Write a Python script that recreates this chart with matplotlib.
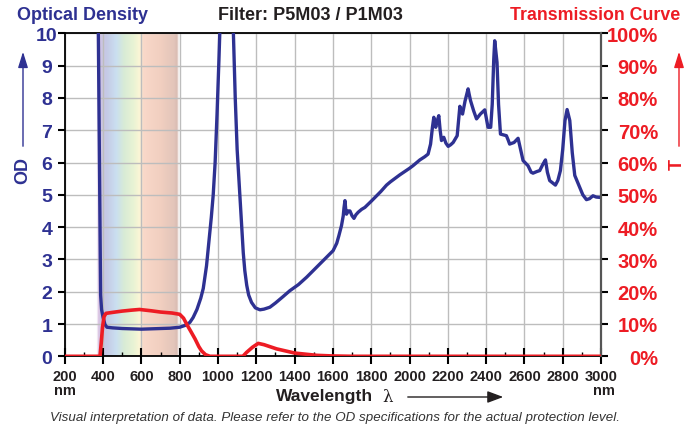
import numpy as np
import matplotlib
matplotlib.use("Agg")
import matplotlib.pyplot as plt
from matplotlib.colors import to_rgb

# ---------------- data ----------------
od_nm = [370, 375, 381, 387, 392, 400, 410, 420, 450, 500, 550, 600, 650, 700, 750, 800,
         830, 853, 870, 890, 910, 923, 940, 955, 965, 975, 985, 995, 1005, 1012, 1045,
         1078, 1090, 1100, 1114, 1123, 1132, 1140, 1150, 1160, 1175, 1195, 1219, 1240,
         1271, 1300, 1340, 1375, 1420, 1463, 1500, 1549, 1601, 1620, 1631, 1645, 1654,
         1658, 1663, 1667, 1671, 1680, 1689, 1700, 1710, 1720, 1732, 1750, 1767, 1800,
         1828, 1850, 1880, 1900, 1950, 2000, 2018, 2054, 2080, 2097, 2110, 2120, 2127,
         2132, 2137, 2145, 2153, 2160, 2167, 2173, 2179, 2190, 2202, 2215, 2228, 2249,
         2256, 2263, 2270, 2277, 2290, 2306, 2312, 2319, 2335, 2350, 2370, 2393, 2400,
         2410, 2424, 2432, 2440, 2445, 2450, 2457, 2465, 2475, 2506, 2515, 2523, 2546,
         2567, 2580, 2593, 2619, 2635, 2645, 2665, 2680, 2697, 2710, 2720, 2732, 2762,
         2775, 2788, 2800, 2812, 2823, 2837, 2850, 2863, 2889, 2905, 2924, 2940, 2958,
         2975, 2993, 3000]
od_val = [14.0, 10.1, 6.0, 1.9, 1.45, 1.2, 0.98, 0.9, 0.88, 0.86, 0.85, 0.84, 0.85, 0.86,
          0.87, 0.9, 0.96, 1.05, 1.2, 1.45, 1.8, 2.1, 2.8, 3.7, 4.3, 5.0, 6.0, 7.5, 9.2,
          10.5, 15.0, 10.5, 8.0, 6.4, 5.0, 4.1, 3.2, 2.65, 2.2, 1.9, 1.67, 1.5, 1.44, 1.46,
          1.52, 1.65, 1.85, 2.03, 2.22, 2.45, 2.67, 2.96, 3.27, 3.5, 3.73, 4.05, 4.35,
          4.6, 4.82, 4.55, 4.4, 4.5, 4.5, 4.35, 4.27, 4.38, 4.46, 4.55, 4.61, 4.8,
          4.97, 5.1, 5.3, 5.4, 5.62, 5.82, 5.9, 6.08, 6.18, 6.26, 6.57, 7.1, 7.4,
          7.2, 7.09, 7.3, 7.45, 7.0, 6.68, 6.75, 6.78, 6.6, 6.5, 6.55, 6.62, 6.83,
          7.3, 7.74, 7.6, 7.5, 7.9, 8.28, 8.1, 7.91, 7.6, 7.35, 7.5, 7.63, 7.4,
          7.09, 7.09, 7.8, 9.2, 9.77, 9.5, 9.1, 7.8, 6.88, 6.83, 6.7, 6.57, 6.62,
          6.75, 6.4, 6.06, 5.9, 5.7, 5.67, 5.72, 5.75, 5.95, 6.08, 5.7, 5.44, 5.3,
          5.45, 5.75, 6.4, 7.3, 7.64, 7.3, 6.3, 5.6, 5.23, 5.0, 4.85, 4.88, 4.97,
          4.93, 4.92, 4.93]

t_nm = [200, 384, 390, 397, 405, 415, 450, 500, 550, 590, 650, 700, 760, 800, 820, 836,
        860, 880, 900, 914, 935, 958, 1130, 1149, 1180, 1210, 1240, 1306, 1401, 1515,
        1600, 1700, 3000]
t_val = [0, 0, 4, 9, 12.3, 13.3, 13.6, 14.0, 14.3, 14.5, 14.1, 13.7, 13.4, 13.0, 11.8,
         10.0, 7.5, 5.4, 3.0, 1.7, 0.5, 0, 0, 1.2, 2.8, 4.0, 3.6, 2.3, 1.0, 0.3, 0.1, 0, 0]

x_ticks = [200, 400, 600, 800, 1000, 1200, 1400, 1600, 1800, 2000, 2200, 2400, 2600, 2800, 3000]
od_ticks = [0, 1, 2, 3, 4, 5, 6, 7, 8, 9, 10]
t_ticks = [0, 10, 20, 30, 40, 50, 60, 70, 80, 90, 100]
t_labels = [f"{v}%" for v in t_ticks]

# visible-spectrum band decoration (wavelength, colour, alpha)
band_nm = [365, 376, 390, 420, 470, 510, 560, 590, 612, 700, 770, 786, 800]
band_col = ["#ffffff", "#ddc6e4", "#cdc4e2", "#c5cae6", "#cadff0", "#d8ebd6", "#e9f3d4",
            "#fbf6d6", "#f9d8c9", "#f1cfc0", "#e3c5ba", "#d9bcb3", "#ffffff"]
band_alpha = [0.0, 1, 1, 1, 1, 1, 1, 1, 1, 1, 1, 1, 0.0]

NAVY = "#2e3192"
RED = "#ed1c24"
DARK = "#231f20"
FONT = "Liberation Sans"

W, H = 692, 427
fig = plt.figure(figsize=(W / 100, H / 100), dpi=100)
L, R, B, T = 64.8, 601, 357.3, 34.3
ax = fig.add_axes([L / W, 1 - B / H, (R - L) / W, (B - T) / H])

# spectrum band
xs = np.linspace(band_nm[0], band_nm[-1], 400)
rgb = np.array([to_rgb(c) for c in band_col])
img = np.zeros((1, xs.size, 4))
for k in range(3):
    img[0, :, k] = np.interp(xs, band_nm, rgb[:, k])
img[0, :, 3] = np.interp(xs, band_nm, band_alpha)
ax.imshow(img, extent=[band_nm[0], band_nm[-1], 0, 10], aspect="auto", zorder=0,
          interpolation="bilinear")

ax.plot(od_nm, od_val, color=NAVY, lw=2.4, zorder=3, solid_joinstyle="round")
ax.set_xlim(200, 3000)
ax.set_ylim(0, 10)
ax.set_axisbelow(True)
ax.grid(True, color="#bdbdbd", lw=1.0)
ax.set_xticks(x_ticks)
ax.set_xticks([v + 100 for v in x_ticks[:-1]], minor=True)
ax.set_yticks(od_ticks)
ax.set_xticklabels([str(v) for v in x_ticks], fontsize=10.5, fontweight="bold",
                   color=DARK, family=FONT)
ax.set_yticklabels([str(v) for v in od_ticks], fontsize=14, fontweight="bold",
                   color=NAVY, family=FONT, ha="center")
ax.tick_params(axis="x", which="major", direction="inout", length=11, width=1.5,
               color="black", pad=4)
ax.tick_params(axis="x", which="minor", direction="in", length=3, width=1.0, color="black")
ax.tick_params(axis="y", which="major", direction="out", length=5, width=1.5,
               color="black", pad=8)
ax.grid(False, which="minor")
for s in ["left", "top", "bottom"]:
    ax.spines[s].set_color("black")
    ax.spines[s].set_linewidth(1.3)
ax.spines["right"].set_visible(False)

ax2 = ax.twinx()
ax2.plot(t_nm, t_val, color=RED, lw=2.6, zorder=4, solid_joinstyle="round")
ax2.set_ylim(0, 100)
ax2.set_yticks(t_ticks)
ax2.set_yticklabels(t_labels, fontsize=14.5, fontweight="bold", color=RED,
                    family=FONT, ha="right")
ax2.tick_params(axis="y", direction="out", length=5, width=1.5, color="black", pad=36)
ax2.spines["right"].set_color("#555555")
ax2.spines["right"].set_linewidth(1.6)
for s in ["left", "top", "bottom"]:
    ax2.spines[s].set_visible(False)


def ftext(x, y, s, **kw):
    fig.text(x / W, 1 - y / H, s, **kw)


ftext(17, 16, "Optical Density", fontsize=13, fontweight="bold", color=NAVY,
      family=FONT, va="center", ha="left")
ftext(310, 16, "Filter: P5M03 / P1M03", fontsize=13, fontweight="bold", color=DARK,
      family=FONT, va="center", ha="center")
ftext(680, 16, "Transmission Curve", fontsize=12.8, fontweight="bold", color=RED,
      family=FONT, va="center", ha="right")

ftext(23, 170, "OD", fontsize=13, fontweight="bold", color=NAVY, rotation=90,
      family=FONT, va="center", ha="center")
ftext(677, 164, "T", fontsize=13, fontweight="bold", color=RED, rotation=90,
      family=FONT, va="center", ha="center")
fig.add_artist(matplotlib.patches.FancyArrowPatch((23 / W, 1 - 150 / H), (23 / W, 1 - 50 / H),
               transform=fig.transFigure, arrowstyle="-|>,head_length=0.8,head_width=0.25",
               mutation_scale=12, color=NAVY, lw=1.0))
fig.add_artist(matplotlib.patches.FancyArrowPatch((679 / W, 1 - 150 / H), (679 / W, 1 - 50 / H),
               transform=fig.transFigure, arrowstyle="-|>,head_length=0.8,head_width=0.25",
               mutation_scale=12, color=RED, lw=1.0))

ftext(65, 391, "nm", fontsize=10.5, fontweight="bold", color=DARK,
      family=FONT, va="center", ha="center")
ftext(604, 391, "nm", fontsize=10.5, fontweight="bold", color=DARK,
      family=FONT, va="center", ha="center")
ftext(373, 397, "Wavelength", fontsize=12.5, fontweight="bold", color=DARK,
      family=FONT, va="center", ha="right")
ftext(388, 398, "λ", fontsize=12, color=DARK, family="DejaVu Serif",
      va="center", ha="center")
fig.add_artist(matplotlib.patches.FancyArrowPatch((405 / W, 1 - 398 / H), (506 / W, 1 - 398 / H),
               transform=fig.transFigure, arrowstyle="-|>,head_length=0.8,head_width=0.3",
               mutation_scale=12, color=DARK, lw=1.0))
ftext(335, 418, "Visual interpretation of data. Please refer to the OD specifications "
      "for the actual protection level.", fontsize=9.6, style="italic", color="#333333",
      family=FONT, va="center", ha="center")

fig.savefig("out.png", dpi=100)
